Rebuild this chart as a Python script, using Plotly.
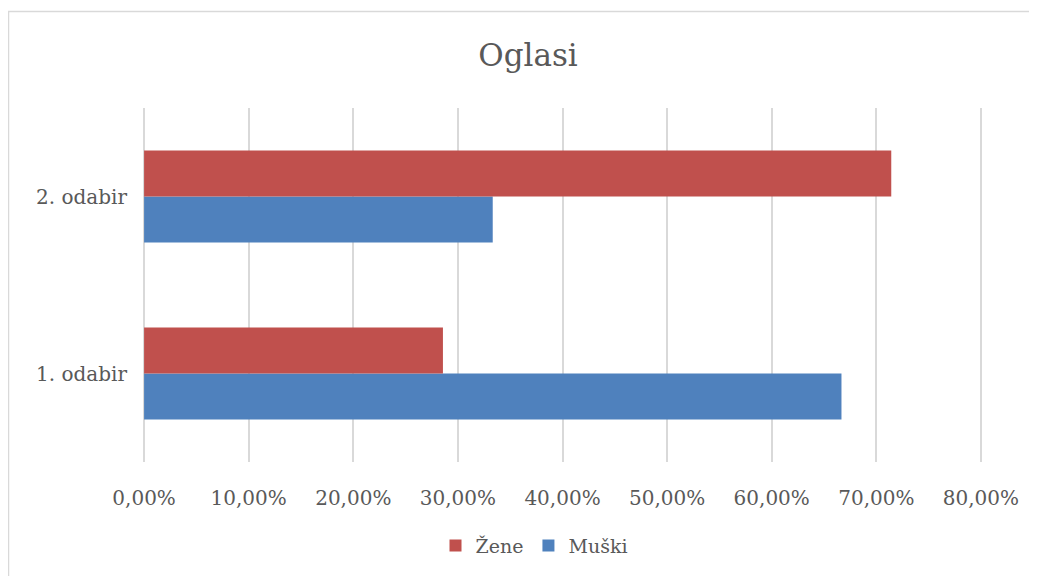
import plotly.graph_objects as go

categories = ['1. odabir', '2. odabir']
muski = [0.6667, 0.3333]
zene = [0.2857, 0.7143]
x_ticks = [0, 0.1, 0.2, 0.3, 0.4, 0.5, 0.6, 0.7, 0.8]

FONT = "DejaVu Serif"
GREY = "#595959"

fig = go.Figure()
# Muški first so it sits below Žene inside each group
fig.add_trace(go.Bar(y=categories, x=muski, orientation='h', name='Muški',
                     marker=dict(color='#4F81BD', line=dict(width=0)), legendrank=2))
fig.add_trace(go.Bar(y=categories, x=zene, orientation='h', name='Žene',
                     marker=dict(color='#C0504D', line=dict(width=0)), legendrank=1))

# the page adds an 8px body margin, so the figure is laid out 8px smaller
W, H = 1029, 568
ml, mr, mt, mb = 134, 54, 100, 112
pw, ph = W - ml - mr, H - mt - mb

def px_x(v):
    return (v - ml) / pw

def px_y(v):
    return (H - mb - v) / ph

fig.update_layout(
    width=W, height=H,
    margin=dict(l=ml, r=mr, t=mt, b=mb),
    paper_bgcolor='white', plot_bgcolor='white',
    separators=',.',
    font=dict(family=FONT, color=GREY, size=20),
    title=dict(text='Oglasi', x=520 / W, xanchor='center', y=1 - 47 / H, yanchor='middle',
               font=dict(family=FONT, size=31, color=GREY)),
    barmode='group', bargap=0.48, bargroupgap=0,
    xaxis=dict(range=[-0.002, 0.802], tickvals=x_ticks, tickformat='.2%',
               showgrid=True, gridcolor='#D9D9D9', gridwidth=1.5,
               zeroline=False, showline=False, ticks='', ticklabelstandoff=22,
               tickfont=dict(size=20, color=GREY)),
    yaxis=dict(showgrid=False, zeroline=False, showline=False, ticks='',
               ticklabelstandoff=14, tickfont=dict(size=20, color=GREY)),
    legend=dict(orientation='h', x=px_x(526), xanchor='center', y=px_y(540), yanchor='middle',
                font=dict(size=19, color=GREY), itemwidth=30),
    showlegend=True,
    shapes=[dict(type='rect', xref='paper', yref='paper',
                 x0=px_x(0.5), x1=px_x(1022), y0=px_y(575), y1=px_y(3),
                 line=dict(color='#D9D9D9', width=1.5), fillcolor='rgba(0,0,0,0)',
                 layer='below')],
)

fig.write_html("out.html")
